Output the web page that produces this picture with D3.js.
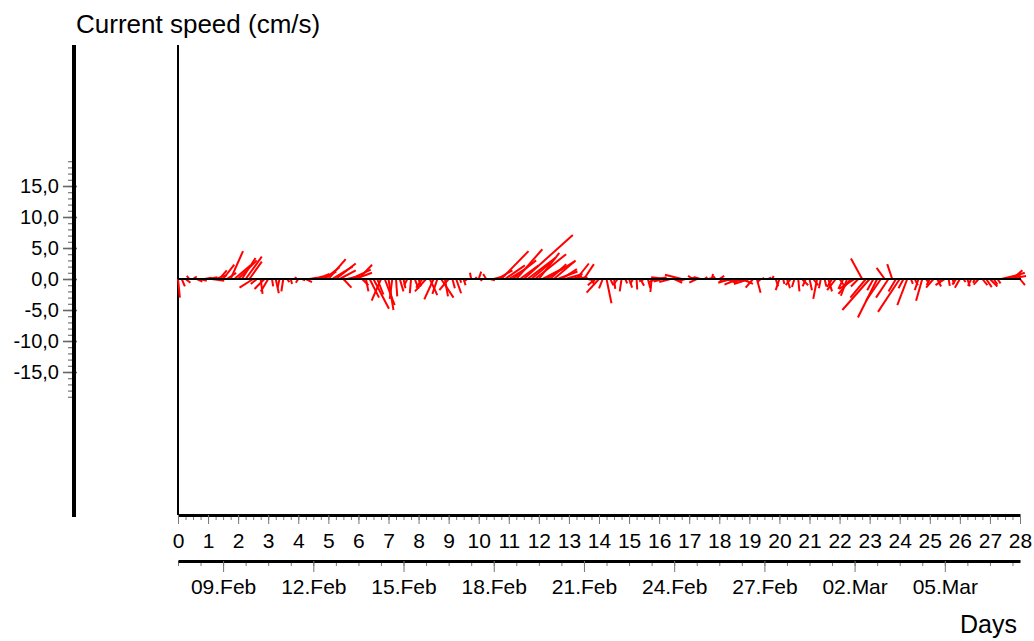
<!DOCTYPE html>
<html>
<head>
<meta charset="utf-8">
<script src="https://cdn.jsdelivr.net/npm/d3@7"></script>
<style>
body { margin: 0; background: #fff; }
svg text { font-family: "Liberation Sans", Arial, sans-serif; fill: #000; }
</style>
</head>
<body>
<svg id="svg" width="1034" height="641"></svg>
<script>
// sample times, days since start of record (07.Feb 12:00), 3-hourly
const days = [
  0, 0.125, 0.25, 0.375, 0.5, 0.625, 0.75, 0.875, 1, 1.125, 1.25, 1.375, 1.5, 1.625, 1.75, 1.875,
  2, 2.125, 2.25, 2.375, 2.5, 2.625, 2.75, 2.875, 3, 3.125, 3.25, 3.375, 3.5, 3.625, 3.75, 3.875,
  4, 4.125, 4.25, 4.375, 4.5, 4.625, 4.75, 4.875, 5, 5.125, 5.25, 5.375, 5.5, 5.625, 5.75, 5.875,
  6, 6.125, 6.25, 6.375, 6.5, 6.625, 6.75, 6.875, 7, 7.125, 7.25, 7.375, 7.5, 7.625, 7.75, 7.875,
  8, 8.125, 8.25, 8.375, 8.5, 8.625, 8.75, 8.875, 9, 9.125, 9.25, 9.375, 9.5, 9.625, 9.75, 9.875,
  10, 10.125, 10.25, 10.375, 10.5, 10.625, 10.75, 10.875, 11, 11.125, 11.25, 11.375, 11.5, 11.625, 11.75, 11.875,
  12, 12.125, 12.25, 12.375, 12.5, 12.625, 12.75, 12.875, 13, 13.125, 13.25, 13.375, 13.5, 13.625, 13.75, 13.875,
  14, 14.125, 14.25, 14.375, 14.5, 14.625, 14.75, 14.875, 15, 15.125, 15.25, 15.375, 15.5, 15.625, 15.75, 15.875,
  16, 16.125, 16.25, 16.375, 16.5, 16.625, 16.75, 16.875, 17, 17.125, 17.25, 17.375, 17.5, 17.625, 17.75, 17.875,
  18, 18.125, 18.25, 18.375, 18.5, 18.625, 18.75, 18.875, 19, 19.125, 19.25, 19.375, 19.5, 19.625, 19.75, 19.875,
  20, 20.125, 20.25, 20.375, 20.5, 20.625, 20.75, 20.875, 21, 21.125, 21.25, 21.375, 21.5, 21.625, 21.75, 21.875,
  22, 22.125, 22.25, 22.375, 22.5, 22.625, 22.75, 22.875, 23, 23.125, 23.25, 23.375, 23.5, 23.625, 23.75, 23.875,
  24, 24.125, 24.25, 24.375, 24.5, 24.625, 24.75, 24.875, 25, 25.125, 25.25, 25.375, 25.5, 25.625, 25.75, 25.875,
  26, 26.125, 26.25, 26.375, 26.5, 26.625, 26.75, 26.875, 27, 27.125, 27.25, 27.375, 27.5, 27.625, 27.75, 27.875,
  28
];

// east component (cm/s)
const east = [
  0.3, 0.5, 0.8, -0.4, 0.6, 0.9, 1.0, 1.2, 1.5, 2.0, 1.8, 1.2, 1.8, 1.5, 2.0, 2.6,
  3.0, 2.2, 2.6, 2.0, -2.2, -1.0, 0.3, -1.6, -1.2, 0.2, 0.5, -0.3, -0.3, 0.4, 0.2, 0.3,
  -0.4, 0.5, 1.0, 1.2, 1.5, 2.0, 2.5, 2.4, 2.8, 3.3, 3.2, 2.6, 1.3, 2.0, 3.2, 2.8,
  2.2, 1.0, 0.4, 1.5, 2.5, 1.0, -1.5, 1.6, 0.8, -0.4, 0.2, 0.6, 0.3, -0.5, -0.2, 0.6,
  0.4, -1.0, -1.8, 1.2, -1.5, -0.8, 2.0, 0.5, -1.5, 0.4, 0.8, 0.2, 0.3, -0.6, -0.2, 0.3,
  0.4, -0.3, -0.5, 0.8, 1.5, 2.4, 4.4, 3.2, 2.5, 3.8, 4.2, 3.0, 7.9, 4.5, 3.0, 5.0,
  3.3, 3.8, 4.5, 2.6, 3.5, 3.2, 2.5, 2.8, 3.0, 1.5, 2.0, 0.8, 1.6, 1.2, 0.4, -1.2,
  -2.0, -0.6, 0.8, 0.5, 0.2, -0.8, -0.3, 0.3, 0.5, -0.4, 0.1, 0.6, -0.8, 0.4, -0.2, -1.0,
  1.2, -1.5, -2.5, -1.8, 1.3, -0.8, -2.7, -1.0, 1.0, -0.8, -1.2, -1.0, 0.5, 0.9, 0.2, -0.4,
  0.8, -0.6, 1.5, -2.0, -1.5, -2.2, 1.8, -1.8, -2.5, -1.2, 0.6, -0.5, -0.3, 0.5, 0.3, 0.4,
  -0.6, 0.2, 0.5, -0.8, -0.4, 0.2, 1.0, -0.5, 0.4, 0.8, -0.6, -0.3, 0.3, 0.6, -0.8, -1.4,
  0.7, -0.8, -1.0, -2.0, -2.5, -1.2, -1.8, -2.5, -4.4, -1.0, -3.1, -2.4, -1.3, -2.0, -0.8, -1.2,
  -3.5, -0.8, -1.6, 0.3, 0.5, -0.6, -1.0, 0.4, -0.5, -1.2, 0.6, -0.4, -1.5, 0.2, 0.3, -0.6,
  -0.8, 0.3, 0.4, -0.5, -0.3, -0.8, 0.8, 0.9, 1.2, 0.6, 0.5, 2.6, 3.2, 2.8, 1.6, 0.7,
  0.8
];

// north component (cm/s)
const north = [
  -3.0, -1.2, -0.6, 0.5, 0.4, -0.4, -0.3, 0.2, 0.3, -0.3, 0.6, 1.4, 2.3, 1.0, 4.5, 2.2,
  3.0, 3.4, 3.6, 2.8, -1.4, -0.8, -2.4, -1.6, -2.0, -1.2, -2.3, -1.4, -2.0, -0.5, -0.8, 0.3,
  -0.6, -0.2, -0.5, 0.2, 0.4, 0.8, 1.2, 1.9, 3.2, 2.0, 2.5, 1.4, -1.4, 0.5, 1.5, 1.0,
  2.3, -1.0, -2.0, -3.0, -4.8, -2.5, -3.5, -4.2, -5.0, -3.2, -2.8, -2.0, -1.5, -1.0, -2.3, -1.6,
  -1.2, -1.4, -2.0, -2.6, -3.3, -2.4, -3.0, -2.8, -1.8, -1.5, -2.3, -0.6, -1.0, -0.4, 1.0, 0.3,
  1.2, -0.3, 0.8, -0.2, 0.4, 1.4, 4.5, 2.2, 1.5, 3.0, 4.8, 2.2, 7.1, 3.4, 2.5, 4.0,
  4.2, 2.0, 2.8, 2.4, 3.0, 1.2, 1.6, 0.8, 0.2, 0.5, 2.5, 0.3, 2.4, -0.3, -0.8, -1.0,
  -2.2, -1.5, -3.9, -1.0, -1.6, -1.0, -2.0, -0.7, -1.4, -0.8, -1.7, -1.1, -0.4, -1.5, -2.1, -0.5,
  0.3, -0.4, 0.3, -0.5, -0.6, 0.3, 0.7, -0.3, 0.3, 0.5, -0.6, 0.3, 0.3, 0.2, 0.8, 0.5,
  0.5, -0.5, -0.6, -0.6, -0.2, -0.9, -0.8, -0.4, -0.8, -1.4, -2.2, -0.5, 0.2, 0.2, 0.5, -1.2,
  -1.8, -0.8, -1.5, -1.0, -1.3, -2.0, -1.0, -1.2, -1.8, -1.0, -3.2, -1.5, -1.2, -2.0, -1.3, -1.8,
  -1.0, -1.6, -2.7, -2.4, -1.6, -1.2, 3.3, -3.0, -5.0, -1.8, -6.2, -3.5, 1.8, -3.0, 2.4, -2.0,
  -5.3, -1.5, -4.2, -0.8, -1.0, -1.8, -3.5, -0.6, -1.0, -1.4, -1.2, -0.8, -1.0, -1.1, -0.8, -0.9,
  -1.4, -0.5, -1.2, -1.1, -0.6, -0.9, -1.0, -1.3, -1.2, -0.9, -0.7, 0.6, 1.0, 0.5, 1.4, 0.8,
  -1.0
];

const speedTicks = [-15, -10, -5, 0, 5, 10, 15];
const dayTicks = [0, 1, 2, 3, 4, 5, 6, 7, 8, 9, 10, 11, 12, 13, 14, 15, 16, 17, 18, 19, 20,
  21, 22, 23, 24, 25, 26, 27, 28];
const dateTicks = ['2009-02-09', '2009-02-12', '2009-02-15', '2009-02-18', '2009-02-21',
  '2009-02-24', '2009-02-27', '2009-03-02', '2009-03-05'];

const svg = d3.select('#svg');

const x = d3.scaleLinear().domain([0, 28]).range([178, 1020]);
const y = d3.scaleLinear().domain([-38, 38]).range([514.6, 43.4]);
const start = new Date(2009, 1, 7, 12);
const end = new Date(2009, 2, 7, 12);
const t = d3.scaleTime().domain([start, end]).range([178, 1020]);

// left speed axis
const yMinor = d3.axisLeft(y)
  .tickValues(d3.range(-19, 20))
  .tickSize(6)
  .tickSizeOuter(0)
  .tickFormat('');

const gyMinor = svg.append('g').attr('transform', 'translate(74,0)').call(yMinor);
gyMinor.select('.domain').remove();
gyMinor.selectAll('.tick line').attr('stroke', '#777').attr('stroke-width', 1.2);

const yAxis = d3.axisLeft(y)
  .tickValues(speedTicks)
  .tickSizeInner(11)
  .tickSizeOuter(0)
  .tickPadding(4)
  .tickFormat(d => d.toFixed(1).replace('.', ','));

const gy = svg.append('g').attr('transform', 'translate(74,0)').call(yAxis);
gy.select('.domain').remove();
gy.selectAll('.tick line').attr('x2', -11).attr('x1', 3).attr('stroke', '#666').attr('stroke-width', 1.6);
gy.selectAll('.tick text').style('font-size', '20px');

svg.append('line')
  .attr('x1', 74).attr('x2', 74).attr('y1', 45).attr('y2', 517)
  .attr('stroke', '#000').attr('stroke-width', 4);

// inner frame line
svg.append('line')
  .attr('x1', 178).attr('x2', 178).attr('y1', 45).attr('y2', 515)
  .attr('stroke', '#000').attr('stroke-width', 2);

// day axis
const xMinor = d3.axisBottom(x).tickValues(d3.range(0, 28.01, 0.25)).tickSize(5).tickSizeOuter(0).tickFormat('');
const gxMinor = svg.append('g').attr('transform', 'translate(0,515)').call(xMinor);
gxMinor.select('.domain').remove();
gxMinor.selectAll('.tick line').attr('stroke', '#777');

const xAxis = d3.axisBottom(x).tickValues(dayTicks).tickSize(9).tickSizeOuter(0);
const gx = svg.append('g').attr('transform', 'translate(0,515)').call(xAxis);
gx.select('.domain').attr('stroke-width', 3);
gx.selectAll('.tick line').attr('stroke', '#777');
gx.selectAll('.tick text').attr('dy', null).attr('y', 33).style('font-size', '21px');

// date axis
const tMinor = d3.axisBottom(t)
  .tickValues(d3.range(0, 28.01, 0.75).map(d => d3.timeHour.offset(start, d * 24)))
  .tickSize(5).tickSizeOuter(0).tickFormat('');
const gtMinor = svg.append('g').attr('transform', 'translate(0,561)').call(tMinor);
gtMinor.select('.domain').remove();
gtMinor.selectAll('.tick line').attr('stroke', '#777');

const tAxis = d3.axisBottom(t)
  .tickValues(dateTicks.map(d => d3.timeParse('%Y-%m-%d')(d)))
  .tickSize(11).tickSizeOuter(0)
  .tickFormat(d3.timeFormat('%d.%b'));
const gt = svg.append('g').attr('transform', 'translate(0,561)').call(tAxis);
gt.select('.domain').attr('stroke-width', 3);
gt.selectAll('.tick line').attr('stroke', '#777');
gt.selectAll('.tick text').attr('dy', null).attr('y', 33).style('font-size', '21px');

// current sticks
svg.append('g')
  .selectAll('line')
  .data(days)
  .enter()
  .append('line')
  .attr('x1', d => x(d))
  .attr('y1', y(0))
  .attr('x2', (d, i) => x(d) + (y(0) - y(east[i])))
  .attr('y2', (d, i) => y(north[i]))
  .attr('stroke', '#ff0000')
  .attr('stroke-width', 2);

// zero line
svg.append('line')
  .attr('x1', x(0)).attr('x2', 1021).attr('y1', y(0)).attr('y2', y(0))
  .attr('stroke', '#000').attr('stroke-width', 2);

svg.append('text')
  .attr('x', 76).attr('y', 33)
  .style('font-size', '26px')
  .text('Current speed (cm/s)');

svg.append('text')
  .attr('x', 1017).attr('y', 633)
  .attr('text-anchor', 'end')
  .style('font-size', '25px')
  .text('Days');
</script>
</body>
</html>
